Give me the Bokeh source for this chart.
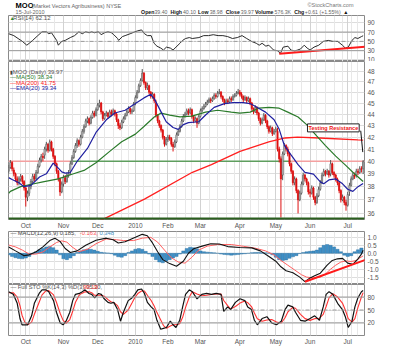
from bokeh.plotting import figure
from bokeh.models import (Range1d, FixedTicker, Grid, Span, Label, LinearAxis,
                          PrintfTickFormatter, ColumnDataSource)
from bokeh.layouts import column
from bokeh.embed import file_html
from bokeh.resources import INLINE

FONT = "Liberation Sans"
W = 383

# ---------------- data (trading-day index 0 = 17-Sep-2009, 207 = 15-Jul-2010) -------------
close = [39.5, 39.9, 39.4, 39.0, 38.6, 38.3, 38.6, 38.8, 38.4, 37.9,
         37.2, 37.5, 38.0, 38.4, 38.8, 38.6, 39.1, 39.6, 40.1, 40.4,
         40.3, 41.0, 41.4, 40.9, 41.6, 41.0, 40.4, 39.8, 39.2, 38.6,
         37.6, 38.2, 38.7, 38.4, 38.9, 39.0, 39.8, 40.3, 40.8, 41.3,
         41.7, 41.4, 42.0, 42.5, 42.9, 43.4, 43.6, 43.2, 43.7, 44.1,
         43.9, 44.4, 44.8, 45.0, 44.2, 43.6, 43.9, 44.1, 43.8, 44.2,
         44.0, 44.3, 44.0, 43.5, 43.0, 42.8, 43.3, 43.6, 43.9, 44.2,
         44.5, 44.2, 44.3, 44.9, 45.5, 46.0, 46.6, 47.1, 47.8, 46.9,
         46.4, 46.6, 46.0, 45.6, 45.8, 45.2, 43.9, 43.4, 43.0, 42.6,
         42.0, 41.4, 41.8, 42.0, 41.9, 41.4, 41.2, 41.6, 42.2, 42.5,
         42.9, 43.4, 43.8, 44.0, 44.3, 44.1, 44.4, 43.8, 43.4, 43.6,
         43.2, 43.8, 44.3, 44.5, 44.7, 44.9, 45.1, 45.3, 45.2, 45.4,
         45.7, 45.6, 45.9, 46.0, 45.6, 45.3, 45.0, 45.2, 45.1, 45.4,
         45.3, 45.6, 45.7, 45.9, 46.0, 45.8, 45.6, 45.3, 45.5, 45.2,
         45.4, 45.0, 44.5, 44.2, 44.6, 44.1, 43.6, 43.2, 43.5, 43.9,
         43.4, 42.9, 42.5, 42.8, 42.3, 42.5, 42.7, 41.0, 40.2, 38.6,
         40.6, 41.3, 41.0, 40.6, 39.8, 39.2, 38.3, 38.6, 37.7, 37.0,
         37.5, 38.2, 38.9, 38.6, 38.3, 37.6, 37.5, 37.9, 37.2, 36.8,
         37.3, 37.8, 38.3, 38.9, 39.2, 39.0, 39.2, 38.9, 39.8, 39.1,
         38.9, 38.6, 38.3, 37.7, 37.0, 37.2, 36.8, 36.6, 37.4, 38.1,
         38.6, 38.9, 38.8, 39.2, 39.1, 39.4, 39.36, 39.97]
open_ = [39.2, 39.5, 39.9, 39.3, 39.0, 38.6, 38.3, 38.6, 38.8, 38.4,
         37.9, 37.2, 37.5, 38.0, 38.4, 38.8, 38.6, 39.1, 39.6, 40.1,
         40.4, 40.5, 41.0, 41.4, 40.9, 41.6, 41.0, 40.4, 39.8, 39.2,
         38.6, 37.6, 38.2, 38.7, 38.4, 38.9, 39.2, 39.8, 40.3, 40.8,
         41.3, 41.7, 41.4, 42.0, 42.5, 42.9, 43.4, 43.6, 43.2, 43.7,
         44.1, 43.9, 44.4, 44.8, 45.0, 44.2, 43.6, 43.9, 44.1, 43.8,
         44.2, 44.0, 44.3, 44.0, 43.5, 43.0, 42.8, 43.3, 43.6, 43.9,
         44.2, 44.5, 44.2, 44.3, 45.0, 45.5, 46.0, 46.6, 47.1, 47.8,
         46.9, 46.4, 46.6, 46.0, 45.6, 45.8, 45.0, 43.9, 43.4, 43.0,
         42.6, 42.0, 41.4, 41.8, 42.0, 41.9, 41.4, 41.2, 41.6, 42.2,
         42.5, 42.9, 43.4, 43.8, 44.0, 44.3, 44.1, 44.4, 43.8, 43.4,
         43.6, 43.2, 43.8, 44.3, 44.5, 44.7, 44.9, 45.1, 45.3, 45.2,
         45.4, 45.7, 45.6, 45.9, 46.0, 45.6, 45.3, 45.0, 45.2, 45.1,
         45.4, 45.3, 45.6, 45.7, 45.9, 46.0, 45.8, 45.6, 45.3, 45.5,
         45.2, 45.4, 45.0, 44.5, 44.2, 44.6, 44.1, 43.6, 43.2, 43.5,
         43.9, 43.4, 42.9, 42.5, 42.8, 42.3, 42.5, 42.5, 41.0, 40.2,
         38.9, 40.6, 41.3, 41.0, 40.6, 39.8, 39.2, 38.3, 38.6, 37.7,
         37.0, 37.5, 38.2, 38.9, 38.6, 38.3, 37.6, 37.5, 37.9, 37.2,
         36.8, 37.3, 37.8, 38.3, 38.9, 39.2, 39.0, 39.2, 39.0, 39.8,
         39.1, 38.9, 38.6, 38.3, 37.7, 37.0, 37.2, 36.8, 36.6, 37.6,
         38.1, 38.6, 38.9, 38.9, 39.2, 39.1, 39.4, 39.40]
high = [39.7, 40.1, 40.0, 39.5, 39.1, 38.8, 38.8, 39.0, 38.9, 38.5,
        38.0, 37.7, 38.2, 38.6, 39.0, 39.0, 39.3, 39.8, 40.3, 40.6,
        40.7, 41.2, 41.6, 41.5, 41.8, 41.7, 41.1, 40.5, 39.9, 39.3,
        38.7, 38.4, 38.9, 38.9, 39.1, 39.3, 40.0, 40.5, 41.0, 41.5,
        41.9, 41.8, 42.2, 42.7, 43.1, 43.6, 43.8, 43.7, 43.9, 44.3,
        44.3, 44.6, 45.0, 45.3, 45.1, 44.3, 44.1, 44.3, 44.2, 44.4,
        44.4, 44.5, 44.4, 44.1, 43.6, 43.2, 43.5, 43.8, 44.1, 44.4,
        44.7, 44.6, 44.5, 45.1, 45.7, 46.2, 46.8, 47.3, 48.2, 47.9,
        47.0, 46.9, 46.7, 46.1, 46.0, 45.9, 45.3, 44.0, 43.5, 43.1,
        42.7, 42.1, 42.0, 42.2, 42.2, 42.0, 41.6, 41.8, 42.4, 42.7,
        43.1, 43.6, 44.0, 44.2, 44.5, 44.5, 44.6, 44.5, 43.9, 43.8,
        43.7, 44.0, 44.5, 44.7, 44.9, 45.1, 45.3, 45.5, 45.5, 45.6,
        45.9, 45.9, 46.1, 46.3, 46.1, 45.7, 45.4, 45.4, 45.4, 45.6,
        45.6, 45.8, 45.9, 46.1, 46.3, 46.2, 46.0, 45.7, 45.7, 45.6,
        45.6, 45.5, 45.1, 44.6, 44.8, 44.7, 44.2, 43.7, 43.7, 44.1,
        44.0, 43.5, 43.0, 43.0, 42.9, 42.7, 42.9, 42.8, 41.2, 40.4,
        40.8, 41.5, 41.4, 41.2, 40.7, 39.9, 39.3, 38.8, 38.7, 37.8,
        37.7, 38.4, 39.1, 39.0, 38.7, 38.4, 37.8, 38.1, 38.0, 37.3,
        37.5, 38.0, 38.5, 39.1, 39.4, 39.3, 39.4, 39.3, 40.1, 39.9,
        39.2, 39.0, 38.7, 38.4, 37.8, 37.4, 37.3, 37.0, 37.6, 38.3,
        38.8, 39.1, 39.1, 39.4, 39.4, 39.6, 39.6, 40.10]
low = [39.0, 39.4, 39.2, 38.8, 38.4, 38.1, 38.1, 38.4, 38.2, 37.7,
       36.5, 36.9, 37.3, 37.8, 38.2, 38.4, 38.5, 39.0, 39.5, 39.9,
       40.0, 40.2, 40.8, 40.7, 40.8, 40.8, 40.2, 39.6, 39.0, 38.4,
       37.3, 37.5, 38.0, 38.2, 38.3, 38.7, 38.9, 39.7, 40.2, 40.7,
       41.1, 41.2, 41.3, 41.9, 42.3, 42.8, 43.2, 43.0, 43.1, 43.6,
       43.7, 43.8, 44.3, 44.6, 44.0, 43.4, 43.5, 43.8, 43.6, 43.7,
       43.8, 43.9, 43.8, 43.3, 42.7, 42.6, 42.7, 43.2, 43.5, 43.8,
       44.1, 44.0, 44.0, 44.2, 44.8, 45.4, 45.9, 46.5, 47.0, 46.7,
       46.2, 46.2, 45.8, 45.4, 45.4, 45.0, 43.7, 43.2, 42.8, 42.4,
       41.8, 41.2, 41.3, 41.6, 41.7, 41.2, 40.8, 41.1, 41.5, 42.1,
       42.4, 42.8, 43.3, 43.7, 43.9, 43.9, 44.0, 43.6, 43.2, 43.3,
       42.8, 43.1, 43.7, 44.2, 44.4, 44.6, 44.8, 45.0, 45.0, 45.1,
       45.3, 45.4, 45.5, 45.8, 45.4, 45.1, 44.8, 44.9, 44.9, 45.0,
       45.1, 45.2, 45.5, 45.6, 45.8, 45.6, 45.4, 45.1, 45.2, 45.0,
       45.1, 44.8, 44.3, 44.0, 44.1, 43.9, 43.4, 43.0, 43.1, 43.4,
       43.2, 42.7, 42.3, 42.4, 42.1, 42.2, 42.4, 40.8, 39.9, 35.7,
       38.5, 40.5, 40.8, 40.4, 39.6, 39.0, 38.1, 38.1, 37.5, 36.0,
       36.9, 37.4, 38.1, 38.4, 38.1, 37.4, 37.2, 37.4, 37.0, 36.6,
       36.7, 37.2, 37.7, 38.2, 38.8, 38.8, 38.9, 38.7, 38.8, 38.9,
       38.7, 38.4, 38.1, 37.5, 36.8, 36.9, 36.6, 36.2, 36.5, 37.3,
       38.0, 38.5, 38.6, 38.7, 38.9, 39.0, 39.1, 38.98]

month_ticks = [10, 32, 52, 74, 93, 112, 135, 156, 176, 198]
month_labels = ["Oct", "Nov", "Dec", "2010", "Feb", "Mar", "Apr", "May", "Jun", "Jul"]
week_ticks = [2, 7, 12, 17, 22, 27, 32, 37, 42, 47, 51, 56, 61, 66, 70, 74, 79, 84,
              88, 93, 98, 103, 107, 112, 117, 122, 127, 132, 136, 141, 146, 151,
              156, 161, 166, 171, 176, 180, 185, 190, 195, 200, 204]

ema20_x = [0, 2, 6, 9, 13, 18, 22, 26, 29, 31, 33, 36, 40, 46, 51, 57, 62, 68, 74, 79,
           83, 85, 89, 92, 96, 99, 102, 105, 111, 115, 120, 126, 131, 137, 141, 145,
           150, 155, 158, 161, 165, 169, 173, 178, 182, 184, 187, 191, 195, 198, 201, 204, 207]
ema20_y = [38.7, 38.55, 38.3, 38.0, 38.1, 38.75, 39.0, 39.85, 39.45, 39.15, 39.05, 39.1,
           40.0, 41.05, 42.4, 43.5, 44.1, 44.35, 44.95, 45.47, 45.8, 45.4, 44.2, 43.33,
           42.83, 42.67, 43.08, 43.25, 43.33, 43.92, 44.61, 44.95, 45.04, 45.04, 44.95,
           44.61, 44.18, 43.5, 42.67, 41.3, 40.5, 39.73, 39.12, 38.97, 38.37, 38.22,
           38.52, 38.6, 38.22, 37.8, 37.64, 38.0, 38.25]
ma50_x = [0, 1, 7, 12, 20, 29, 37, 44, 51, 59, 66, 74, 79, 85, 89, 94, 100, 107, 115,
          122, 130, 135, 141, 146, 152, 158, 163, 169, 174, 180, 185, 191, 197, 201, 207]
ma50_y = [37.5, 37.64, 38.0, 38.15, 38.37, 38.6, 38.97, 39.27, 39.88, 40.81, 41.61,
          42.26, 42.92, 43.75, 44.09, 43.92, 43.75, 43.83, 44.18, 44.35, 44.18, 44.09,
          44.18, 44.53, 44.61, 44.53, 44.18, 43.75, 43.08, 42.09, 41.29, 40.42, 39.65,
          39.12, 38.4]
ma200_x = [50, 55.3, 79.3, 107.3, 118.4, 135.1, 151.9, 161.4, 168.7, 181.5, 203.9, 207]
ma200_y = [35.3, 35.59, 37.06, 39.12, 39.73, 40.81, 41.61, 41.93, 42.01, 41.93, 41.77, 41.75]

rsi_x = [0, 3, 5.5, 8, 10.6, 12, 14, 17, 19.5, 22, 23.4, 25, 28, 29, 31, 33, 36, 38.5,
         41, 43, 45, 47, 48.5, 50, 52.5, 54, 56, 58, 60, 61.4, 63.6, 64.2, 66.4, 68, 71,
         73.7, 75.4, 77.6, 79.3, 81, 83.2, 84.9, 86.6, 88.8, 90.4, 92.1, 94.4, 96, 97.7,
         100, 101.6, 103.3, 105.5, 107.2, 111.1, 113.9, 116.7, 119.5, 122.3, 125.1,
         127.9, 130.7, 133.5, 136.3, 139, 141.8, 144.6, 146.3, 148, 150.2, 151.9, 154.7,
         157.5, 158.6, 160.3, 163.1, 164.8, 167.1, 168.7, 170.4, 172.6, 174.3, 176,
         178.3, 181.1, 183.8, 186.6, 189.4, 192.1, 194.9, 196.6, 198.3, 200.5, 202.2,
         203.9, 206, 207]
rsi_y = [66.5, 62.4, 56.2, 50, 41.8, 45.9, 52.1, 62.4, 70.6, 70.6,
         66.5, 68.6, 52.1, 41.8, 50, 52.1, 58.2, 62.4, 70.6, 66.5,
         70.6, 68.6, 70.6, 68.6, 70.6, 64.4, 68.6, 70.6, 68.6, 64.4,
         56.2, 52.1, 60.3, 62.4, 66.5, 70.6, 72.7, 74.7, 66.5, 62.4,
         62.4, 45.9, 39.7, 35.6, 31.4, 37.6, 35.6, 31.4, 37.6, 45.9,
         52.1, 56.2, 58.2, 56.2, 58.2, 62.4, 62.4, 64.4, 62.4, 62.4,
         60.3, 56.2, 58.2, 62.4, 56.2, 50, 45.9, 41.8, 45.9, 39.7,
         41.8, 31.4, 29.4, 23.2, 37.6, 39.7, 31.4, 29.4, 31.4, 33.5,
         41.8, 35.6, 31.4, 37.6, 41.8, 50, 52.1, 50, 50, 41.8,
         35.6, 37.6, 52.1, 58.2, 56.2, 60.3, 62.12]
rsi_trend_x = [158, 219]
rsi_trend_y = [23.5, 41.8]

macd_x = [0, 4, 9, 12, 16, 20, 24, 27, 30, 33, 36, 40, 45, 51, 57, 61, 64, 68, 74, 78,
          81, 84, 87, 90, 94, 98, 102, 105, 108, 113, 118, 123, 128, 135, 142, 147, 152,
          156, 159, 162, 166, 170, 173, 176, 179, 182, 184, 186, 189, 192, 195, 198, 201,
          204, 206, 207]
macd_y = [0.40, 0.15, -0.15, -0.10, 0.10, 0.40, 0.80, 0.95, 0.75, 0.30,
          0.05, 0.15, 0.50, 0.82, 0.95, 0.85, 0.65, 0.72, 1.00, 1.19,
          1.10, 0.65, 0.10, -0.40, -0.65, -0.82, -0.50, 0.00, 0.28, 0.45,
          0.60, 0.58, 0.42, 0.36, 0.34, 0.15, -0.20, -0.50, -0.85, -1.10,
          -1.22, -1.50, -1.78, -1.55, -1.40, -1.25, -1.00, -0.75, -0.45, -0.35,
          -0.32, -0.62, -0.70, -0.35, -0.05, 0.185]
signal_x = [0, 4, 8, 12, 16, 20, 24, 28, 31, 34, 37, 41, 46, 51, 57, 63, 67, 73, 78, 83,
            87, 91, 95, 99, 103, 107, 111, 116, 122, 130, 137, 144, 150, 155, 159, 163,
            167, 171, 174, 178, 182, 185, 188, 191, 194, 197, 200, 203, 205, 207]
signal_y = [0.52, 0.40, 0.20, -0.05, -0.05, 0.08, 0.40, 0.68, 0.78, 0.70,
            0.40, 0.10, 0.25, 0.60, 0.90, 0.85, 0.80, 0.80, 0.95, 1.00,
            0.70, 0.20, -0.28, -0.55, -0.62, -0.25, 0.20, 0.45, 0.55, 0.55,
            0.44, 0.32, 0.15, -0.10, -0.45, -0.75, -1.05, -1.35, -1.50, -1.55,
            -1.50, -1.30, -1.00, -0.75, -0.55, -0.48, -0.52, -0.45, -0.30, -0.163]
hist_x = [0, 2, 4, 6, 8, 10, 12, 14, 16, 18, 20, 22, 24, 26, 28, 30, 32, 34, 36, 38,
          40, 42, 44, 46, 48, 50, 52, 54, 56, 58, 60, 62, 64, 66, 68, 70, 72, 74, 76, 78,
          80, 82, 84, 86, 88, 90, 92, 94, 96, 98, 100, 102, 104, 106, 108, 110, 112, 114,
          116, 118, 120, 122, 124, 126, 128, 130, 132, 134, 136, 138, 140, 142, 144, 146,
          148, 150, 152, 154, 156, 158, 160, 162, 164, 166, 168, 170, 172, 174, 176, 178,
          180, 182, 184, 186, 188, 190, 192, 194, 196, 198, 200, 202, 204, 206]
hist_y = [-0.10, -0.20, -0.28, -0.33, -0.35, -0.30, -0.20, -0.05, 0.10, 0.22,
          0.32, 0.40, 0.42, 0.35, 0.20, -0.10, -0.35, -0.40, -0.30, -0.15,
          0.05, 0.15, 0.22, 0.27, 0.25, 0.20, 0.12, 0.06, 0.03, 0.02,
          -0.03, -0.12, -0.22, -0.25, -0.15, 0.05, 0.15, 0.25, 0.30, 0.25,
          0.12, -0.05, -0.20, -0.40, -0.55, -0.60, -0.50, -0.40, -0.30, -0.20,
          -0.05, 0.15, 0.30, 0.38, 0.35, 0.28, 0.15, 0.10, 0.07, 0.05,
          0.03, 0.00, -0.05, -0.08, -0.10, -0.12, -0.10, -0.08, -0.05, -0.03,
          0.00, 0.04, 0.05, 0.05, 0.04, 0.03, 0.00, -0.10, -0.25, -0.40,
          -0.45, -0.42, -0.32, -0.22, -0.15, -0.02, 0.05, 0.10, 0.12, 0.15,
          0.20, 0.35, 0.50, 0.55, 0.50, 0.40, 0.25, 0.10, -0.12, -0.20,
          -0.15, 0.10, 0.22, 0.33]
macd_trend_x = [173, 219]
macd_trend_y = [-1.79, 0.0]

sto_x = [0, 2.7, 5, 6.6, 7.8, 9.4, 11.1, 13.4, 15, 17.8, 19.5, 21.7, 23.4, 26.2, 27.9,
         30.1, 31.8, 33.5, 35.7, 37.4, 39, 41.3, 43, 44.6, 46.9, 48.5, 50.2, 52.5, 54.1,
         55.8, 58, 59.7, 61.4, 63.6, 65.3, 67, 69.8, 72, 73.7, 75.4, 77.6, 79.3, 81,
         83.2, 84.9, 86.6, 88.8, 90.4, 92.1, 94.4, 96, 97.7, 99.9, 101.6, 103.3, 105.5,
         107.2, 110, 112.8, 115.6, 118.4, 121.2, 124, 125.6, 127.9, 129.6, 132.4, 135.1,
         137.9, 139.6, 141.8, 143.5, 145.2, 148, 150.8, 153.6, 156.4, 159.2, 161.4,
         163.1, 165.9, 167.5, 170.4, 173.1, 176, 178.7, 181.5, 183.7, 185.4, 187.1,
         189.3, 192.1, 194.9, 196.6, 198.3, 200.5, 202.2, 203.9, 206, 207]
stok_y = [92.4, 86.2, 65.5, 30.3, 15.8, 15.8, 15.8, 36.5, 65.5, 88.3,
          96.6, 96.6, 92.4, 71.7, 44.8, 20, 15.8, 24.1, 44.8, 71.7,
          86.2, 88.3, 92.4, 96.6, 88.3, 86.2, 77.9, 88.3, 86.2, 75.9,
          67.6, 65.5, 67.6, 51, 24.1, 44.8, 71.7, 77.9, 86.2, 96.6,
          98.6, 88.3, 67.6, 57.2, 51, 26.2, 5.5, 7.5, 9.6, 24.1,
          15.8, 9.6, 26.2, 57.2, 86.2, 96.6, 92.4, 75.9, 86.2, 88.3,
          86.2, 88.3, 86.2, 46.9, 57.2, 51, 67.6, 75.9, 71.7, 57.2,
          51, 26.2, 15.8, 30.3, 34.5, 20, 15.8, 24.1, 51, 61.4,
          57.2, 44.8, 26.2, 24.1, 30.3, 36.5, 26.2, 57.2, 86.2, 92.4,
          86.2, 65.5, 51, 34.5, 9.6, 24.1, 57.2, 77.9, 92.4, 95.2]
stod_y = [90, 90, 80, 60, 38, 22, 16, 22, 40, 68,
          85, 94, 95, 85, 68, 42, 26, 19, 28, 47,
          68, 85, 89, 92, 92, 90, 84, 84, 84, 82,
          74, 69, 67, 60, 46, 40, 50, 66, 79, 88,
          94, 94, 84, 72, 60, 44, 27, 14, 8, 13,
          16, 16, 18, 33, 56, 80, 92, 87, 83, 84,
          86, 87, 87, 72, 60, 52, 58, 66, 71, 67,
          58, 43, 30, 24, 27, 28, 22, 20, 32, 46,
          56, 54, 40, 30, 26, 30, 31, 40, 58, 78,
          88, 80, 66, 50, 30, 22, 30, 55, 80, 90.19]

price_ticks = [36, 37, 38, 39, 40, 41, 42, 43, 44, 45, 46, 47, 48]
rsi_ticks = [10, 30, 50, 70, 90]
macd_ticks = [-1.5, -1.0, -0.5, 0.0, 0.5, 1.0]
sto_ticks = [20, 50, 80]

resistance = 40.0
res_seg_x0 = [-0.1, 36, 165]
res_seg_x1 = [36, 165, 207.8]
res_seg_col = ["#f4a0a0", "#5e9e5e", "#f4a0a0"]
price_floor = 35.62
note_x, note_y = 174.5, 42.45
arrow_x = [205.6, 206.8]
arrow_y = [42.55, 40.75]

# ---------------- layout helpers ----------------
xr = Range1d(-0.1, 207.8)


def label(p, x, y, text, color="#555555", size="6px", bold=False, align="left",
          baseline="middle"):
    lb = Label(x=x, y=y, text=text, text_color=color, text_font_size=size,
               text_font=FONT, text_font_style=("bold" if bold else "normal"),
               text_align=align, text_baseline=baseline)
    p.add_layout(lb)
    return lb


def panel(h, yr, ticks, fmt, bottom=0, log=False):
    p = figure(width=W, height=h, x_range=xr, y_range=yr,
               y_axis_type=("log" if log else "linear"), y_axis_location="right",
               x_axis_location=None, toolbar_location=None, output_backend="svg",
               min_border_left=8, min_border_right=19, min_border_top=0,
               min_border_bottom=bottom)
    p.background_fill_color = "white"
    p.border_fill_color = "white"
    p.outline_line_color = "#8a8a8a"
    p.xgrid.visible = False
    p.add_layout(Grid(dimension=0, ticker=FixedTicker(ticks=week_ticks),
                      grid_line_color="#e8e8e8"))
    p.add_layout(Grid(dimension=0, ticker=FixedTicker(ticks=month_ticks),
                      grid_line_color="#d2d2d2"))
    ax = p.yaxis[0]
    ax.ticker = FixedTicker(ticks=ticks)
    ax.formatter = PrintfTickFormatter(format=fmt)
    ax.axis_line_color = None
    ax.major_tick_line_color = None
    ax.minor_tick_line_color = None
    ax.major_tick_out = 0
    ax.major_tick_in = 0
    ax.major_label_text_font_size = "6.5px"
    ax.major_label_text_color = "#555555"
    ax.major_label_text_font = FONT
    ax.major_label_standoff = 3
    p.ygrid.grid_line_color = "#dddddd"
    return p


def month_axis(p):
    ax = LinearAxis(ticker=FixedTicker(ticks=month_ticks),
                    major_label_overrides={t: l for t, l in zip(month_ticks, month_labels)},
                    axis_line_color=None, major_tick_line_color=None,
                    minor_tick_line_color=None, major_tick_out=0, major_tick_in=0,
                    major_label_text_font_size="6.5px", major_label_text_color="#555555",
                    major_label_text_font=FONT, major_label_standoff=2)
    p.add_layout(ax, "below")


# ---------------- header ----------------
hdr = figure(width=W, height=15, x_range=Range1d(0, 400), y_range=Range1d(15.7, 0),
             x_axis_location=None, y_axis_location=None, toolbar_location=None,
             output_backend="svg", min_border=0)
hdr.outline_line_color = None
hdr.grid.visible = False
label(hdr, 8, 5.2, "MOO", "#000000", "7.5px", bold=True)
label(hdr, 26, 5.4, "(Market Vectors Agribusiness) NYSE", "#666666", "5.5px")
label(hdr, 8, 12.4, "15-Jul-2010", "#666666", "5.5px")
label(hdr, 336, 5.2, "©StockCharts.com", "#777777", "5.5px")
hdr_items = [(149, "Open", True), (164, "39.40", False), (182, "High", True),
             (196, "40.10", False), (213, "Low", True), (226, "38.98", False),
             (244, "Close", True), (261, "39.97", False), (277, "Volume", True),
             (299, "576.3K", False), (321, "Chg", True), (333, "+0.61 (+1.55%)", False),
             (376, "▲", True)]
for hx, ht, hb in hdr_items:
    label(hdr, hx, 12.4, ht, "#111111" if hb else "#666666", "5.2px", bold=hb)

# ---------------- RSI ----------------
rsi = panel(46, Range1d(6.7, 105.7), rsi_ticks, "%d")
for lvl in (70, 30):
    rsi.add_layout(Span(location=lvl, dimension="width", line_color="#9a9a9a", line_width=1))
rsi.add_layout(Span(location=50, dimension="width", line_color="#9a9a9a", line_width=1,
                    line_dash="4 2 1 2"))
rsi.line(rsi_x, rsi_y, line_color="#2a2a2a", line_width=1)
rsi.line(rsi_trend_x, rsi_trend_y, line_color="#ff1a1a", line_width=2)
label(rsi, 0.6, 100.5, "▲", "#2e8b2e", "5px")
label(rsi, 2.6, 100.5, "RSI(14) 62.12", "#555555", "6px")

# ---------------- Price ----------------
pp = panel(170, Range1d(35.56, 48.94), price_ticks, "%d", bottom=11, log=True)
month_axis(pp)
n = len(close)
xs = list(range(n))
down = [c < o for o, c in zip(open_, close)]
src = ColumnDataSource(dict(
    x=xs, hi=high, lo=low,
    top=[max(o, c) for o, c in zip(open_, close)],
    bot=[min(o, c) for o, c in zip(open_, close)],
    fill=["#dd1111" if d else "white" for d in down],
    edge=["#dd1111" if d else "#555555" for d in down]))
pp.segment(x0=res_seg_x0, y0=[resistance] * 3, x1=res_seg_x1, y1=[resistance] * 3,
           line_color=res_seg_col, line_width=1.5)
pp.segment(x0="x", y0="lo", x1="x", y1="hi", line_color="edge", line_width=1, source=src)
pp.vbar(x="x", width=0.7, top="top", bottom="bot", fill_color="fill",
        line_color="edge", line_width=0.7, source=src)
pp.line(ma200_x, ma200_y, line_color="#ff2020", line_width=1.3)
pp.line(ma50_x, ma50_y, line_color="#2a7a2a", line_width=1.2)
pp.line(ema20_x, ema20_y, line_color="#2020a0", line_width=1.2)
pp.add_layout(Span(location=price_floor, dimension="width", line_color="#2a5e1e",
                   line_width=2.5))
label(pp, 0.8, 47.9, "▮", "#444444", "5px")
label(pp, 2.4, 47.9, "MOO (Daily) 39.97", "#555555", "6px")
label(pp, 0.8, 47.45, "—MA(50) 38.34", "#2a7a2a", "6px")
label(pp, 0.8, 46.9, "—MA(200) 41.75", "#ff2020", "6px")
label(pp, 0.8, 46.35, "—EMA(20) 39.34", "#2020a0", "6px")
note = Label(x=note_x, y=note_y, text="Testing Resistance", text_color="#ee1111",
             text_font_size="5.5px", text_font=FONT, text_font_style="bold",
             text_align="left", text_baseline="bottom", background_fill_color="white",
             border_line_color="#222222", border_line_width=1, padding=1)
pp.add_layout(note)
pp.line(arrow_x, arrow_y, line_color="#111111", line_width=1)

# ---------------- MACD ----------------
mc = panel(53, Range1d(-1.964, 1.369), macd_ticks, "%.1f")
mc.vbar(x=hist_x, width=1.9, top=hist_y, bottom=0, fill_color="#3f8fc6",
        line_color="#2b6f9f", line_width=0.4)
mc.line(signal_x, signal_y, line_color="#ff6060", line_width=1)
mc.line(macd_x, macd_y, line_color="#111111", line_width=1.1)
mc.line(macd_trend_x, macd_trend_y, line_color="#ff1a1a", line_width=2)
label(mc, 1.0, 1.29, "— MACD(12,26,9) 0.185,", "#444444", "5.8px")
label(mc, 41.5, 1.29, "-0.163,", "#ff5050", "5.8px")
label(mc, 53.0, 1.29, "0.348", "#3f8fc6", "5.8px")

# ---------------- Full STO ----------------
st = panel(63, Range1d(-9, 109), sto_ticks, "%d", bottom=9)
month_axis(st)
for lvl in (80, 20):
    st.add_layout(Span(location=lvl, dimension="width", line_color="#9a9a9a", line_width=1))
st.add_layout(Span(location=50, dimension="width", line_color="#9a9a9a", line_width=1,
                   line_dash="4 2 1 2"))
st.line(sto_x, stod_y, line_color="#ff3333", line_width=1.1)
st.line(sto_x, stok_y, line_color="#111111", line_width=1.2)
label(st, 1.0, 102.8, "— Full STO %K(14,3) %D(3) 95.20,", "#555555", "5.8px")
label(st, 43.5, 102.8, "90.19", "#ff3333", "5.8px")

layout = column(hdr, rsi, pp, mc, st, spacing=0)
open("out.html", "w").write(file_html(layout, INLINE))
